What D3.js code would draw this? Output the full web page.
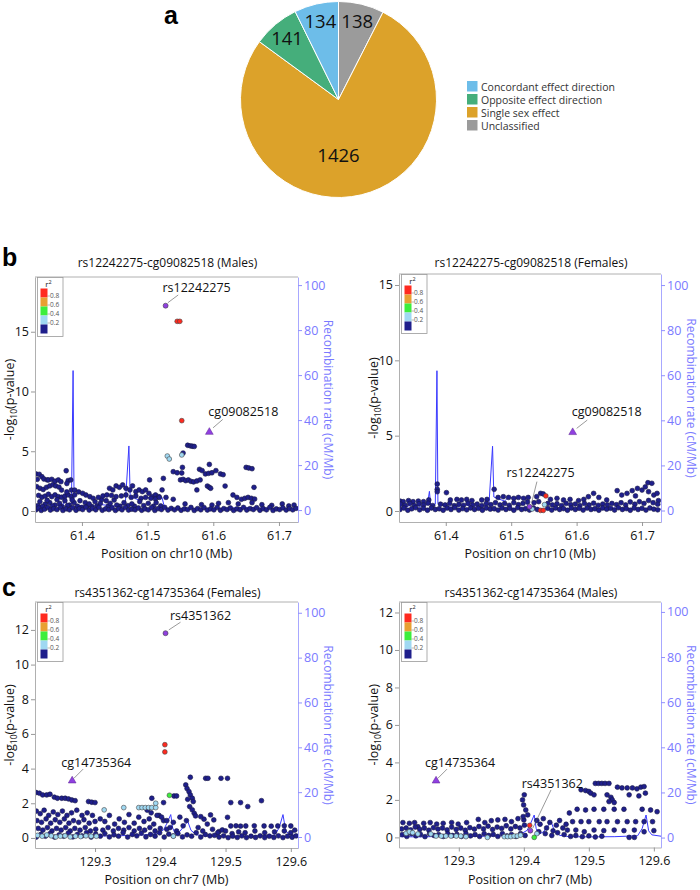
<!DOCTYPE html>
<html>
<head>
<meta charset="utf-8">
<script src="https://cdn.jsdelivr.net/npm/d3@7"></script>
<style>
body { margin: 0; background: #fff; }
text { font-family: "Open Sans", sans-serif; }
</style>
</head>
<body>
<svg id="chart"></svg>
<script>
// ---- panel a: pie ----
var pieCats = ["Concordant effect direction", "Opposite effect direction", "Single sex effect", "Unclassified"];
var pieCounts = [134, 141, 1426, 138];
var pieColors = ["#6dbde9", "#45ae7b", "#dca22a", "#9b9b9b"];
var pieOrder = [3, 2, 1, 0];   // clockwise from 12 o'clock

// ---- r2 classes ----
var r2Labels = ["0.8", "0.6", "0.4", "0.2"];
var r2Colors = ["#ff2a1f", "#e8a032", "#3cee3c", "#9fd8f2", "#1f1f8c"];

// ---- recombination rate (cM/Mb) ----
var recombChr10 = [[61.3285,1.2],[61.334,2.5],[61.34,1.5],[61.35,3.2],[61.36,1.8],[61.372,2.6],[61.375,8.5],[61.377,2.2],
  [61.384,2.8],[61.3865,62],[61.388,3],[61.395,2.2],[61.41,1.4],[61.43,2.4],[61.45,1.8],[61.466,2.6],[61.4715,28.5],
  [61.4735,6],[61.48,5.2],[61.49,4.2],[61.497,6.2],[61.505,5],[61.515,6],[61.522,5.5],[61.526,0.8],[61.56,0.5],
  [61.6,0.6],[61.65,1.2],[61.7,0.5],[61.729,0.6]];
var recombChr7 = [[129.208,0.4],[129.24,0.3],[129.27,0.5],[129.3,0.4],[129.34,0.6],[129.37,0.8],[129.395,1.5],
  [129.405,3.2],[129.41,6],[129.416,10],[129.419,4],[129.423,1.5],[129.43,2.5],[129.438,5.5],[129.442,7],[129.447,3],
  [129.455,1],[129.47,0.4],[129.5,0.3],[129.54,0.4],[129.575,0.8],[129.582,4],[129.588,10],[129.592,3],[129.597,1.2],
  [129.611,0.6]];

// ---- b: rs12242275-cg09082518, Males ----
var bMaleIndex = [[61.5274,17.18]];
var bMaleCpG = [[61.594,6.6]];
var bMaleRed = [[61.545,15.87],[61.549,15.87],[61.552,7.56]];
var bMaleLightBlue = [[61.530,4.6],[61.533,4.35],[61.552,4.69]];
var bMaleNavy = [
  [61.330,3.1],[61.335,3.07],[61.339,2.87],[61.332,2.65],[61.342,2.68],[61.347,2.6],
  [61.331,2.04],[61.336,1.9],[61.341,1.8],[61.346,1.98],[61.351,2.1],[61.356,2.2],[61.360,2.1],[61.365,2.0],[61.369,1.75],
  [61.349,2.6],[61.354,2.65],[61.359,2.5],[61.364,2.6],[61.368,2.45],[61.376,3.37],[61.379,2.55],[61.383,2.6],[61.377,2.3],
  [61.334,1.3],[61.339,1.15],[61.344,1.25],[61.349,1.4],[61.354,1.2],[61.359,1.35],[61.364,1.2],[61.369,1.15],
  [61.374,1.25],[61.379,1.35],[61.384,1.2],[61.389,1.35],
  [61.336,0.78],[61.344,0.58],[61.351,0.7],[61.359,0.5],[61.366,0.64],[61.374,0.86],[61.381,0.5],[61.388,0.7],
  [61.377,1.6],[61.384,1.75],[61.389,1.75],
  [61.333,0.45],[61.340,0.38],[61.347,0.9],[61.355,0.42],[61.362,0.95],[61.370,0.35],[61.378,0.45],[61.385,0.92],
  [61.393,0.4],[61.400,0.3],[61.408,0.45],[61.415,0.38],[61.423,0.42],[61.430,0.95],[61.440,0.4],[61.449,0.92],
  [61.458,0.4],[61.470,0.45],[61.480,0.4],[61.494,0.45],[61.509,0.4],[61.520,0.42],
  [61.395,1.6],[61.401,1.48],[61.406,1.34],[61.412,1.2],[61.417,1.06],[61.425,1.14],[61.432,1.26],[61.438,1.34],
  [61.397,0.86],[61.405,0.7],[61.411,0.59],[61.420,0.78],[61.428,0.64],[61.437,0.86],
  [61.442,1.9],[61.447,1.76],[61.452,2.1],[61.457,1.98],[61.462,2.18],[61.467,1.9],[61.473,1.76],[61.477,2.1],
  [61.482,1.62],[61.487,1.76],[61.492,1.62],[61.497,1.76],[61.502,1.48],[61.507,1.2],[61.512,1.34],[61.517,1.2],[61.522,1.76],
  [61.445,1.3],[61.452,1.2],[61.460,1.26],[61.467,1.34],[61.475,1.14],[61.482,1.26],[61.490,1.06],[61.497,1.14],
  [61.505,1.06],[61.512,1.0],[61.518,1.14],
  [61.443,0.64],[61.453,0.5],[61.464,0.7],[61.476,0.59],[61.488,0.78],[61.501,0.64],[61.513,0.7],
  [61.503,2.6],[61.524,2.73],
  [61.554,4.85],[61.561,5.5],[61.565,5.45],[61.568,5.42],[61.571,5.4],
  [61.539,3.29],[61.545,3.2],[61.552,3.18],[61.553,3.65],
  [61.550,2.6],[61.554,2.65],[61.558,2.54],[61.562,2.6],[61.566,2.48],[61.570,2.43],[61.575,2.51],[61.580,2.6],
  [61.579,3.49],[61.583,3.38],[61.588,3.1],[61.593,3.15],[61.598,3.2],[61.604,3.38],[61.611,3.1],[61.615,3.04],
  [61.591,2.09],[61.594,1.98],[61.596,1.9],[61.575,1.76],[61.618,2.09],[61.594,3.9],
  [61.650,3.65],[61.654,3.6],[61.659,3.54],[61.662,1.98],
  [61.630,1.34],[61.636,1.14],[61.643,0.98],[61.648,1.06],[61.653,1.14],[61.658,1.06],[61.663,1.0],
  [61.528,1.14],[61.539,0.98],[61.557,0.59],[61.582,0.53],[61.598,0.5],[61.608,0.64],[61.623,0.7],[61.638,0.59],
  [61.659,0.7],[61.674,0.53],[61.689,0.47],[61.705,0.59],[61.715,0.42],[61.723,0.5],
  [61.330,0.1],[61.334,0.25],[61.338,0.05],[61.343,0.15],[61.348,0.3],[61.352,0.08],[61.357,0.2],[61.362,0.12],
  [61.367,0.3],[61.371,0.05],[61.376,0.18],[61.381,0.1],[61.386,0.28],[61.391,0.06],[61.396,0.2],[61.401,0.12],
  [61.406,0.32],[61.411,0.08],[61.416,0.22],[61.421,0.1],[61.426,0.3],[61.431,0.06],[61.436,0.18],[61.441,0.12],
  [61.446,0.26],[61.451,0.05],[61.456,0.2],[61.461,0.1],[61.466,0.3],[61.471,0.08],[61.476,0.15],[61.481,0.1],
  [61.486,0.25],[61.491,0.06],[61.496,0.18],[61.501,0.1],[61.506,0.28],[61.511,0.05],[61.516,0.2],[61.521,0.12],
  [61.526,0.3],[61.531,0.08],[61.536,0.22],[61.541,0.1],[61.546,0.25],[61.551,0.06],[61.556,0.18],[61.561,0.12],
  [61.566,0.3],[61.571,0.05],[61.576,0.2],[61.581,0.1],[61.586,0.28],[61.591,0.08],[61.596,0.18],[61.601,0.1],
  [61.606,0.3],[61.611,0.06],[61.616,0.2],[61.621,0.12],[61.626,0.25],[61.631,0.05],[61.636,0.18],[61.641,0.1],
  [61.646,0.3],[61.651,0.08],[61.656,0.2],[61.661,0.12],[61.666,0.28],[61.671,0.06],[61.676,0.2],[61.681,0.1],
  [61.686,0.3],[61.691,0.05],[61.696,0.18],[61.701,0.12],[61.706,0.26],[61.711,0.08],[61.716,0.2],[61.721,0.1],[61.726,0.22]
];

// ---- b: rs12242275-cg09082518, Females ----
var bFemaleIndex = [[61.528,0.29]];
var bFemaleCpG = [[61.594,5.22]];
var bFemaleRed = [[61.553,1.0],[61.545,0.04],[61.549,0.04]];
var bFemaleLightBlue = [[61.532,0.13],[61.551,0.42]];
var bFemaleNavy = [
  [61.387,1.79],[61.387,1.44],[61.387,1.28],[61.401,1.22],[61.474,1.44],
  [61.330,0.66],[61.335,0.62],[61.343,0.69],[61.350,0.62],[61.358,0.66],[61.366,0.62],[61.374,0.73],[61.407,0.73],
  [61.417,0.77],[61.424,0.73],[61.432,0.77],[61.440,0.69],[61.455,0.73],[61.463,0.77],[61.480,0.9],[61.488,0.95],
  [61.496,0.9],[61.504,0.84],[61.511,0.9],[61.519,0.84],[61.526,0.9],[61.539,0.95],[61.545,1.17],[61.549,1.13],
  [61.560,0.77],[61.570,0.84],[61.580,0.73],[61.590,0.77],[61.603,0.69],[61.611,0.77],[61.618,0.95],[61.626,1.17],
  [61.634,0.9],[61.646,0.73],[61.662,1.35],[61.669,1.06],[61.677,1.17],[61.685,1.35],[61.690,1.0],[61.693,1.5],
  [61.700,1.39],[61.705,1.6],[61.709,1.88],[61.715,1.84],[61.710,1.28],[61.718,1.06],[61.723,1.17],[61.725,0.69],
  [61.331,0.45],[61.338,0.38],[61.345,0.5],[61.352,0.35],[61.359,0.48],[61.366,0.4],[61.373,0.52],[61.380,0.36],
  [61.392,0.45],[61.399,0.4],[61.406,0.5],[61.413,0.35],[61.420,0.45],[61.427,0.38],[61.434,0.52],[61.441,0.4],
  [61.448,0.46],[61.455,0.35],[61.462,0.5],[61.469,0.42],[61.476,0.55],[61.483,0.4],[61.490,0.5],[61.497,0.38],
  [61.504,0.55],[61.511,0.42],[61.518,0.5],[61.525,0.6],[61.535,0.55],[61.542,0.62],[61.556,0.5],[61.563,0.4],
  [61.570,0.48],[61.577,0.36],[61.584,0.5],[61.591,0.42],[61.598,0.46],[61.605,0.35],[61.612,0.5],[61.619,0.4],
  [61.626,0.52],[61.633,0.38],[61.640,0.46],[61.647,0.4],[61.654,0.5],[61.661,0.42],[61.668,0.55],[61.675,0.4],
  [61.682,0.6],[61.689,0.45],[61.696,0.62],[61.703,0.5],[61.710,0.7],[61.717,0.55],[61.724,0.45],
  [61.330,0.1],[61.336,0.2],[61.342,0.05],[61.348,0.15],[61.354,0.22],[61.360,0.08],[61.366,0.18],[61.372,0.05],
  [61.378,0.2],[61.384,0.1],[61.390,0.15],[61.396,0.05],[61.402,0.2],[61.408,0.1],[61.414,0.22],[61.420,0.06],
  [61.426,0.16],[61.432,0.08],[61.438,0.2],[61.444,0.1],[61.450,0.18],[61.456,0.05],[61.462,0.2],[61.468,0.12],
  [61.474,0.15],[61.480,0.06],[61.486,0.2],[61.492,0.1],[61.498,0.18],[61.504,0.05],[61.510,0.22],[61.516,0.1],
  [61.522,0.15],[61.528,0.06],[61.534,0.2],[61.540,0.1],[61.556,0.18],[61.562,0.06],[61.568,0.2],[61.574,0.1],
  [61.580,0.16],[61.586,0.05],[61.592,0.2],[61.598,0.1],[61.604,0.18],[61.610,0.06],[61.616,0.2],[61.622,0.1],
  [61.628,0.15],[61.634,0.05],[61.640,0.2],[61.646,0.12],[61.652,0.18],[61.658,0.06],[61.664,0.22],[61.670,0.1],
  [61.676,0.16],[61.682,0.05],[61.688,0.2],[61.694,0.1],[61.700,0.18],[61.706,0.06],[61.712,0.2],[61.718,0.12],[61.724,0.08]
];

// ---- c: rs4351362-cg14735364, Females ----
var cFemaleIndex = [[129.408,11.81]];
var cFemaleCpG = [[129.265,3.3]];
var cFemaleRed = [[129.407,5.38],[129.407,4.96]];
var cFemaleGreen = [[129.414,2.46]];
var cFemaleLightBlue = [[129.314,1.62],[129.344,1.75],[129.367,1.75],[129.372,1.75],[129.377,1.75],[129.382,1.75],
  [129.387,1.75],[129.393,1.75],[129.393,2.0],[129.212,0.15],[129.219,0.1],[129.226,0.17],[129.233,0.12],[129.240,0.06],
  [129.247,0.1],[129.254,0.12],[129.262,0.06],[129.27,0.1],[129.278,0.08],[129.286,0.12],[129.294,0.1],[129.302,0.1],[129.42,0.1]];
var cFemaleNavy = [
  [129.2095,2.62],[129.2147,2.58],[129.2198,2.48],[129.226,2.48],[129.231,2.52],[129.2377,2.35],[129.2424,2.29],
  [129.249,2.29],[129.2542,2.29],[129.2593,2.25],[129.2644,2.19],[129.2695,2.15],[129.29,2.1],[129.295,2.06],[129.3,2.04],
  [129.387,2.29],[129.405,2.04],[129.421,2.42],[129.425,2.42],
  [129.446,3.5],[129.439,3.06],[129.441,2.85],[129.444,2.67],[129.446,2.48],[129.449,2.29],[129.4505,2.1],[129.442,2.23],
  [129.445,1.81],[129.449,1.62],[129.452,1.42],[129.454,1.27],
  [129.4695,3.44],[129.473,3.44],[129.493,3.44],[129.503,3.44],
  [129.508,2.04],[129.523,2.04],[129.534,1.81],[129.555,2.15],
  [129.477,1.33],[129.482,1.04],[129.467,1.08],[129.462,1.23],
  [129.508,0.69],[129.516,0.7],[129.523,0.68],[129.531,0.69],[129.544,0.7],[129.559,0.69],[129.57,0.68],[129.58,0.69],
  [129.59,0.7],[129.6,0.69],[129.503,1.19],[129.49,0.37],[129.495,0.46],
  [129.21,1.55],[129.216,1.4],[129.222,1.6],[129.229,1.3],[129.236,1.5],[129.243,1.35],[129.25,1.55],[129.257,1.3],
  [129.264,1.45],[129.272,1.6],[129.28,1.3],[129.288,1.45],[129.296,1.3],
  [129.211,1.0],[129.218,0.9],[129.225,1.1],[129.232,0.85],[129.239,1.05],[129.246,0.9],[129.253,1.1],[129.26,0.85],
  [129.267,1.0],[129.275,0.9],[129.283,1.05],[129.291,0.85],[129.3,0.95],[129.308,1.1],
  [129.213,0.55],[129.22,0.45],[129.227,0.6],[129.234,0.4],[129.241,0.55],[129.248,0.45],[129.255,0.6],[129.262,0.4],
  [129.269,0.55],[129.277,0.45],[129.285,0.6],[129.293,0.4],[129.301,0.5],
  [129.315,0.95],[129.322,1.3],[129.33,0.8],[129.337,1.1],[129.345,0.9],[129.352,1.35],[129.36,0.85],[129.367,1.2],
  [129.375,0.95],[129.383,1.1],[129.39,0.8],[129.398,1.3],[129.405,1.0],
  [129.312,0.45],[129.32,0.6],[129.328,0.4],[129.336,0.55],[129.344,0.45],[129.352,0.6],[129.36,0.4],[129.368,0.55],
  [129.376,0.45],[129.384,0.6],[129.392,0.4],[129.4,0.55],[129.41,0.5],
  [129.38,1.6],[129.386,1.45],[129.395,1.3],[129.402,1.2],[129.41,1.0],
  [129.415,0.6],[129.42,0.9],[129.425,0.4],[129.43,1.2],[129.435,0.7],[129.44,1.0],[129.458,0.6],[129.465,0.4],
  [129.472,0.8],[129.48,0.5],[129.488,0.3],[129.5,0.4],[129.51,0.25],[129.52,0.35],[129.53,0.3],[129.545,0.4],
  [129.56,0.3],[129.575,0.35],[129.59,0.4],[129.6,0.3],[129.606,0.45],
  [129.21,0.05],[129.217,0.2],[129.224,0.1],[129.231,0.25],[129.238,0.05],[129.245,0.18],[129.252,0.1],[129.259,0.28],
  [129.266,0.06],[129.273,0.2],[129.28,0.12],[129.287,0.3],[129.294,0.05],[129.301,0.22],[129.308,0.1],[129.315,0.25],
  [129.322,0.06],[129.329,0.18],[129.336,0.1],[129.343,0.3],[129.35,0.05],[129.357,0.2],[129.364,0.12],[129.371,0.28],
  [129.378,0.06],[129.385,0.2],[129.392,0.1],[129.399,0.3],[129.406,0.05],[129.413,0.22],[129.42,0.12],[129.427,0.25],
  [129.434,0.06],[129.441,0.18],[129.448,0.1],[129.455,0.3],[129.462,0.05],[129.469,0.2],[129.476,0.12],[129.483,0.15],
  [129.49,0.05],[129.497,0.12],[129.504,0.02],[129.511,0.1],[129.518,0.03],[129.525,0.12],[129.532,0.02],[129.539,0.1],
  [129.546,0.03],[129.553,0.12],[129.56,0.02],[129.567,0.1],[129.574,0.03],[129.581,0.12],[129.588,0.02],[129.595,0.1],
  [129.602,0.04],[129.608,0.12]
];

// ---- c: rs4351362-cg14735364, Males ----
var cMaleIndex = [[129.41,0.36]];
var cMaleCpG = [[129.265,3.02]];
var cMaleRed = [[129.409,0.64]];
var cMaleGreen = [[129.416,0.0]];
var cMaleLightBlue = [[129.219,0.21],[129.224,0.3],[129.229,0.25],[129.237,0.18],[129.257,0.18],[129.265,0.07],
  [129.273,0.07],[129.28,0.07],[129.288,0.07],[129.296,0.07],[129.303,0.07],[129.311,0.04],[129.344,0.0],[129.37,0.04],
  [129.375,0.04],[129.38,0.04],[129.385,0.07],[129.39,0.07],[129.395,0.12],[129.42,0.2]];
var cMaleNavy = [
  [129.4007,2.27],[129.3997,1.73],[129.398,2.0],[129.403,1.46],[129.406,1.2],[129.4,0.93],
  [129.214,0.79],[129.224,0.75],[129.232,0.79],[129.237,0.57],[129.246,0.75],[129.256,0.79],[129.266,0.71],[129.276,0.75],
  [129.289,0.79],[129.299,0.71],[129.312,0.79],[129.33,0.96],[129.34,0.79],[129.35,0.89],[129.36,0.93],[129.371,0.96],
  [129.381,0.84],[129.391,1.0],[129.399,1.11],
  [129.212,0.45],[129.219,0.5],[129.226,0.4],[129.233,0.55],[129.24,0.42],[129.247,0.5],[129.254,0.38],[129.261,0.52],
  [129.268,0.44],[129.275,0.5],[129.282,0.4],[129.289,0.55],[129.296,0.42],[129.303,0.5],[129.31,0.38],[129.317,0.52],
  [129.324,0.44],[129.331,0.58],[129.338,0.45],[129.345,0.6],[129.352,0.42],[129.359,0.55],[129.366,0.48],[129.373,0.62],
  [129.38,0.45],[129.387,0.58],[129.394,0.5],[129.401,0.65],
  [129.213,0.15],[129.22,0.05],[129.227,0.2],[129.234,0.08],[129.241,0.16],[129.248,0.04],[129.255,0.2],[129.262,0.1],
  [129.269,0.15],[129.276,0.05],[129.283,0.2],[129.29,0.1],[129.297,0.16],[129.304,0.05],[129.311,0.2],[129.318,0.08],
  [129.325,0.15],[129.332,0.05],[129.339,0.2],[129.346,0.1],[129.353,0.16],[129.36,0.05],[129.367,0.2],[129.374,0.08],
  [129.381,0.15],[129.388,0.05],[129.395,0.2],[129.402,0.1],
  [129.51,2.88],[129.515,2.88],[129.52,2.88],[129.525,2.88],[129.531,2.88],
  [129.488,2.54],[129.495,2.5],[129.5,2.45],[129.503,2.36],[129.508,2.27],
  [129.528,2.27],[129.534,2.14],[129.536,2.0],[129.539,1.86],[129.531,1.91],
  [129.544,2.68],[129.551,2.64],[129.559,2.64],[129.567,2.64],[129.574,2.59],[129.58,2.68],[129.585,2.71],
  [129.562,2.27],[129.577,2.21],[129.587,2.36],
  [129.482,1.5],[129.495,1.46],[129.508,1.5],[129.523,1.5],[129.539,1.5],[129.554,1.5],[129.582,1.5],[129.595,1.46],[129.605,1.37],
  [129.475,0.84],[129.488,0.84],[129.5,0.84],[129.516,0.84],[129.528,0.84],[129.544,0.84],[129.559,0.84],[129.572,0.84],
  [129.585,0.84],[129.598,0.84],
  [129.467,0.39],[129.48,0.39],[129.493,0.3],[129.508,0.39],[129.523,0.36],[129.539,0.39],[129.554,0.36],[129.57,0.39],
  [129.585,0.3],[129.6,0.36],[129.562,0.0],[129.57,0.0],
  [129.42,0.9],[129.425,0.7],[129.43,1.0],[129.435,0.5],[129.44,0.8],[129.445,0.35],[129.45,0.65],[129.455,0.9],
  [129.46,0.5],[129.465,0.7],[129.47,1.3],[129.423,0.3],[129.433,0.2],[129.443,0.1],[129.452,0.25],[129.462,0.15],
  [129.472,0.05],[129.48,0.1],[129.49,0.04],[129.5,0.08],[129.51,0.02],[129.52,0.06]
];

var W = 700, H = 890;
var svg = d3.select("#chart").attr("width", W).attr("height", H);

// ================= panel a =================
var pieData = pieOrder.map(function(i) {
  return { cat: pieCats[i], n: pieCounts[i], col: pieColors[i] };
});
var total = d3.sum(pieCounts);
var pieCx = 338.5, pieCy = 99.5, pieR = 98;

var pie = d3.pie().sort(null).value(function(d) { return d.n; });
var arc = d3.arc().innerRadius(0).outerRadius(pieR);
var labelArc = d3.arc().innerRadius(80).outerRadius(80);

var pg = svg.append("g").attr("transform", "translate(" + pieCx + "," + pieCy + ")");
pg.selectAll("path")
  .data(pie(pieData))
  .enter()
  .append("path")
  .attr("d", arc)
  .attr("fill", function(d) { return d.data.col; })
  .attr("stroke", "#fff")
  .attr("stroke-width", 1);

pg.selectAll("text")
  .data(pie(pieData))
  .enter()
  .append("text")
  .attr("transform", function(d) {
    // the big slice gets its count straight below the centre
    var p = d.value > total / 2 ? [0, 56] : labelArc.centroid(d);
    return "translate(" + p[0] + "," + p[1] + ")";
  })
  .attr("text-anchor", "middle")
  .attr("dy", "0.36em")
  .style("font-size", "18.5px")
  .attr("fill", "#111")
  .text(function(d) { return d.data.n; });

var pl = svg.append("g").attr("transform", "translate(467,81)");
pieCats.forEach(function(c, i) {
  pl.append("rect").attr("x", 0).attr("y", i * 13).attr("width", 10.5).attr("height", 10.5)
    .attr("fill", pieColors[i]);
  pl.append("text").attr("x", 14).attr("y", i * 13 + 9.5)
    .style("font-size", "10.5px").attr("fill", "#333").text(c);
});

// panel letters
function letter(t, x, y) {
  svg.append("text").attr("x", x).attr("y", y).text(t)
    .style("font-family", "'Liberation Sans', Arial, sans-serif")
    .style("font-size", "25px").style("font-weight", "bold").attr("fill", "#000");
}
letter("a", 164, 24);
letter("b", 2, 266);
letter("c", 2, 596);

// ================= locus panels =================
var panels = [
  { id: "bl", x0: 35, x1: 298, y0: 277, y1: 522, xDom: [61.3285, 61.729], yDom: [-0.92, 19.58], rDom: [-5.3, 103.6],
    yTicks: [0, 5, 10, 15], xTicks: [61.4, 61.5, 61.6, 61.7], chr: "chr10", recomb: recombChr10,
    title: "rs12242275-cg09082518 (Males)", titleY: 267,
    sets: [bMaleNavy, bMaleLightBlue, [], [], bMaleRed], index: bMaleIndex, cpg: bMaleCpG,
    snp: "rs12242275", cg: "cg09082518",
    snpOff: { tx: 31, ty: -14, l: [2.3, -3, 12.6, -10.7] }, cgOff: { tx: 34, ty: -16, l: [3.7, -4.3, 13.4, -12.7] } },
  { id: "br", x0: 399, x1: 661, y0: 274, y1: 522, xDom: [61.3285, 61.729], yDom: [-0.73, 15.73], rDom: [-5.1, 104.9],
    yTicks: [0, 5, 10, 15], xTicks: [61.4, 61.5, 61.6, 61.7], chr: "chr10", recomb: recombChr10,
    title: "rs12242275-cg09082518 (Females)", titleY: 267,
    sets: [bFemaleNavy, bFemaleLightBlue, [], [], bFemaleRed], index: bFemaleIndex, cpg: bFemaleCpG,
    snp: "rs12242275", cg: "cg09082518",
    snpOff: { tx: 11, ty: -30, l: [2.4, -5, 7.4, -25] }, cgOff: { tx: 34, ty: -16, l: [4, -4, 14.6, -12.3] } },
  { id: "cl", x0: 35, x1: 298, y0: 602, y1: 848, xDom: [129.208, 129.611], yDom: [-0.58, 13.61], rDom: [-4.9, 104.8],
    yTicks: [0, 2, 4, 6, 8, 10, 12], xTicks: [129.3, 129.4, 129.5, 129.6], chr: "chr7", recomb: recombChr7,
    title: "rs4351362-cg14735364 (Females)", titleY: 597,
    sets: [cFemaleNavy, cFemaleLightBlue, cFemaleGreen, [], cFemaleRed], index: cFemaleIndex, cpg: cFemaleCpG,
    snp: "rs4351362", cg: "cg14735364",
    snpOff: { tx: 35, ty: -13, l: [3.3, -3.3, 15, -11] }, cgOff: { tx: 24, ty: -13.5, l: [1.7, -2.4, 11, -11.7] } },
  { id: "cr", x0: 399, x1: 661, y0: 602, y1: 847.5, xDom: [129.208, 129.611], yDom: [-0.54, 12.56], rDom: [-4.4, 104.4],
    yTicks: [0, 2, 4, 6, 8, 10, 12], xTicks: [129.3, 129.4, 129.5, 129.6], chr: "chr7", recomb: recombChr7,
    title: "rs4351362-cg14735364 (Males)", titleY: 597,
    sets: [cMaleNavy, cMaleLightBlue, cMaleGreen, [], cMaleRed], index: cMaleIndex, cpg: cMaleCpG,
    snp: "rs4351362", cg: "cg14735364",
    snpOff: { tx: 22, ty: -43, l: [2.4, -2.4, 20.7, -40.7] }, cgOff: { tx: 24, ty: -13.5, l: [1.7, -2.4, 11, -11.7] } }
];

var recombColor = "#7a7aff";

function drawPanel(p) {
  var x = d3.scaleLinear().domain(p.xDom).range([p.x0, p.x1]);
  var y = d3.scaleLinear().domain(p.yDom).range([p.y1, p.y0]);
  var yr = d3.scaleLinear().domain(p.rDom).range([p.y1, p.y0]);
  var g = svg.append("g");

  g.append("clipPath").attr("id", "clip-" + p.id)
    .append("rect").attr("x", p.x0).attr("y", p.y0)
    .attr("width", p.x1 - p.x0).attr("height", p.y1 - p.y0);

  // recombination rate line
  g.append("path")
    .datum(p.recomb)
    .attr("clip-path", "url(#clip-" + p.id + ")")
    .attr("fill", "none")
    .attr("stroke", "#3a3aff")
    .attr("stroke-width", 1)
    .attr("d", d3.line().x(function(d) { return x(d[0]); }).y(function(d) { return yr(d[1]); }));

  // points, lowest r2 first
  var order = [4, 3, 2, 1, 0];
  var pts = g.append("g").attr("clip-path", "url(#clip-" + p.id + ")");
  order.forEach(function(k) {
    var setIdx = 4 - k; // sets: navy, lightblue, green, orange, red
    pts.append("g").selectAll("circle")
      .data(p.sets[setIdx])
      .enter()
      .append("circle")
      .attr("cx", function(d) { return x(d[0]); })
      .attr("cy", function(d) { return y(d[1]); })
      .attr("r", 2.4)
      .attr("fill", r2Colors[k])
      .attr("stroke", k === 4 ? "#1a1a45" : "#444")
      .attr("stroke-width", 0.6);
  });
  pts.selectAll("circle.idx")
    .data(p.index)
    .enter()
    .append("circle")
    .attr("class", "idx")
    .attr("cx", function(d) { return x(d[0]); })
    .attr("cy", function(d) { return y(d[1]); })
    .attr("r", 2.5)
    .attr("fill", "#9040e0")
    .attr("stroke", "#444")
    .attr("stroke-width", 0.6);
  pts.selectAll("path.cpg")
    .data(p.cpg)
    .enter()
    .append("path")
    .attr("class", "cpg")
    .attr("d", d3.symbol().type(d3.symbolTriangle).size(26))
    .attr("transform", function(d) { return "translate(" + x(d[0]) + "," + y(d[1]) + ")"; })
    .attr("fill", "#9040e0")
    .attr("stroke", "#5a2090")
    .attr("stroke-width", 0.5);

  // top frame line
  g.append("line").attr("x1", p.x0).attr("x2", p.x1).attr("y1", p.y0).attr("y2", p.y0)
    .attr("stroke", "#b0b0b0").attr("stroke-width", 1);

  // left axis
  var ax = g.append("g").attr("transform", "translate(" + p.x0 + ",0)")
    .call(d3.axisLeft(y).tickValues(p.yTicks).tickSize(4).tickSizeOuter(0).tickPadding(2));
  ax.select(".domain").attr("stroke", "#b0b0b0");
  ax.selectAll(".tick line").attr("stroke", "#999");
  ax.selectAll("text").style("font-size", "12.5px").attr("fill", "#111")
    .style("font-family", "Open Sans");

  // bottom axis
  var bx = g.append("g").attr("transform", "translate(0," + p.y1 + ")")
    .call(d3.axisBottom(x).tickValues(p.xTicks).tickFormat(d3.format(".1f"))
      .tickSize(4).tickSizeOuter(0).tickPadding(5));
  bx.select(".domain").attr("stroke", "#b0b0b0");
  bx.selectAll(".tick line").attr("stroke", "#999");
  bx.selectAll("text").style("font-size", "12.5px").attr("fill", "#111")
    .style("font-family", "Open Sans");

  // right (recombination) axis
  var rx = g.append("g").attr("transform", "translate(" + p.x1 + ",0)")
    .call(d3.axisRight(yr).tickValues([0, 20, 40, 60, 80, 100]).tickSize(4).tickSizeOuter(0).tickPadding(2));
  rx.select(".domain").attr("stroke", "#a8a8ff");
  rx.selectAll(".tick line").attr("stroke", "#9090ff");
  rx.selectAll("text").style("font-size", "12.5px").attr("fill", recombColor)
    .style("font-family", "Open Sans");

  // axis titles
  var midY = (p.y0 + p.y1) / 2;
  var lt = g.append("text")
    .attr("transform", "translate(" + (p.x0 - 21) + "," + midY + ") rotate(-90)")
    .attr("text-anchor", "middle")
    .style("font-size", "12.5px").attr("fill", "#111");
  lt.append("tspan").text("-log");
  lt.append("tspan").attr("dy", 3).style("font-size", "8.5px").text("10");
  lt.append("tspan").attr("dy", -3).text("(p-value)");

  g.append("text")
    .attr("transform", "translate(" + (p.x1 + 26) + "," + midY + ") rotate(90)")
    .attr("text-anchor", "middle")
    .style("font-size", "12px").attr("fill", recombColor)
    .text("Recombination rate (cM/Mb)");

  g.append("text")
    .attr("x", (p.x0 + p.x1) / 2).attr("y", p.y1 + 36)
    .attr("text-anchor", "middle")
    .style("font-size", "12.5px").attr("fill", "#111")
    .text("Position on " + p.chr + " (Mb)");

  g.append("text")
    .attr("x", (p.x0 + p.x1) / 2 + 1).attr("y", p.titleY)
    .attr("text-anchor", "middle")
    .style("font-size", "12px").attr("fill", "#111")
    .text(p.title);

  // SNP / CpG labels with leader lines
  function annotate(pt, name, o) {
    var px = x(pt[0]), py = y(pt[1]);
    g.append("line")
      .attr("x1", px + o.l[0]).attr("y1", py + o.l[1])
      .attr("x2", px + o.l[2]).attr("y2", py + o.l[3])
      .attr("stroke", "#555").attr("stroke-width", 0.6);
    g.append("text")
      .attr("x", px + o.tx).attr("y", py + o.ty)
      .attr("text-anchor", "middle")
      .style("font-size", "12.5px").attr("fill", "#111")
      .text(name);
  }
  annotate(p.index[0], p.snp, p.snpOff);
  annotate(p.cpg[0], p.cg, p.cgOff);

  // r2 legend
  var lg = g.append("g").attr("transform", "translate(" + (p.x0 + 2.5) + "," + (p.y0 + 0.5) + ")");
  lg.append("rect").attr("width", 25.5).attr("height", 59)
    .attr("fill", "#fff").attr("stroke", "#999").attr("stroke-width", 0.8);
  var r2t = lg.append("text").attr("x", 11).attr("y", 9).attr("text-anchor", "middle")
    .style("font-size", "8px").attr("fill", "#222");
  r2t.append("tspan").text("r");
  r2t.append("tspan").attr("dy", -3).style("font-size", "5.5px").text("2");
  var sq = d3.scaleBand().domain(d3.range(r2Colors.length)).range([11, 56]);
  lg.selectAll("rect.sw")
    .data(r2Colors)
    .enter()
    .append("rect")
    .attr("class", "sw")
    .attr("x", 3).attr("width", 7)
    .attr("y", function(d, i) { return sq(i); })
    .attr("height", sq.bandwidth())
    .attr("fill", function(d) { return d; });
  r2Labels.forEach(function(t, i) {
    var yy = sq(i + 1);
    lg.append("line").attr("x1", 10).attr("x2", 12.5).attr("y1", yy - 1.5).attr("y2", yy - 1.5)
      .attr("stroke", "#777").attr("stroke-width", 0.5);
    lg.append("text").attr("x", 12.5).attr("y", yy)
      .style("font-size", "6.5px").attr("fill", "#555").text(t);
  });
}

panels.forEach(drawPanel);
</script>
</body>
</html>
